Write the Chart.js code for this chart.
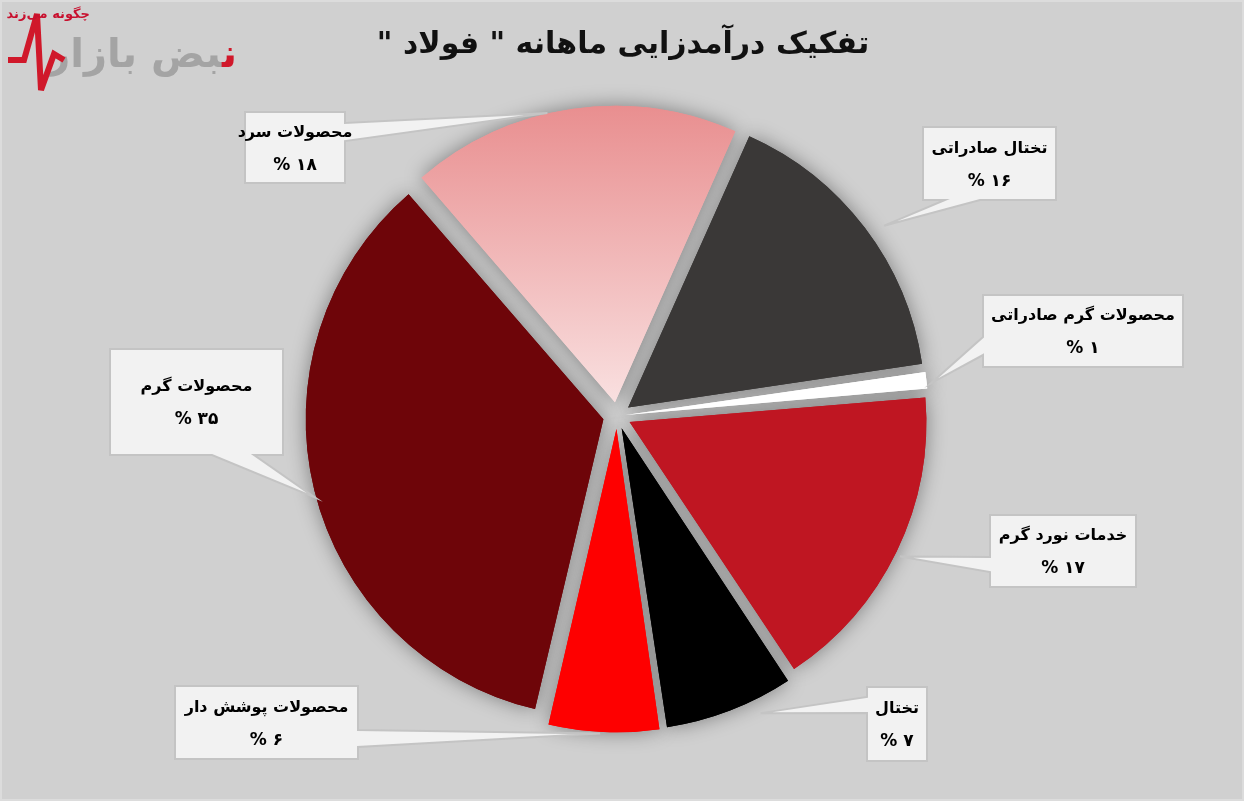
<!DOCTYPE html>
<html lang="fa">
<head>
<meta charset="UTF-8">
<title>تفکیک درآمدزایی ماهانه فولاد</title>
<script src="https://cdn.jsdelivr.net/npm/chart.js"></script>
<style>
  body{margin:0; background:#d0d0d0;}
  #wrap{position:relative; width:1244px; height:801px; overflow:hidden;}
  #logo{position:absolute; left:0; top:0; width:245px; height:95px;}
  #logoSub{position:absolute; left:28px; top:6px; width:62px; direction:rtl; text-align:center;
    font:bold 13px "DejaVu Sans"; color:#c8102e; white-space:nowrap;}
  #logoMain{position:absolute; right:8px; top:30px; direction:rtl;
    font:bold 40px "DejaVu Sans"; color:#a4a4a4; white-space:nowrap; letter-spacing:-1px;}
</style>
</head>
<body>
<div id="wrap">
  <canvas id="myChart" width="1244" height="801"></canvas>
  <div id="logo">
    <div id="logoMain"><span style="color:#d0182a">ن</span>بض بازار</div>
    <svg width="245" height="95" style="position:absolute;left:0;top:0">
      <polyline points="8,60 24,60 37,14 41,90 54,54 64,60" stroke="#d0182a" stroke-width="6" fill="none"/>
    </svg>
    <div id="logoSub">چگونه می‌زند</div>
  </div>
</div>
<script>
  // داده ها
  const labels = ['تختال صادراتی', 'محصولات گرم صادراتی', 'خدمات نورد گرم', 'تختال', 'محصولات پوشش دار', 'محصولات گرم', 'محصولات سرد'];
  const shares = [16, 1, 17, 7, 6, 35, 18];
  const colors = ['#3a3837', '#ffffff', '#bf1622', '#000000', '#fe0000', '#6e0509', 'pinkGradient'];
  const chartTitle = 'تفکیک درآمدزایی ماهانه " فولاد "';

  // جای جعبه های توضیح (فقط چیدمان)
  const callouts = [
    {box: [923, 127, 133, 73], side: 'bottom', a: 22, b: 57, f: 0.53, d: 328},
    {box: [983, 295, 200, 72], side: 'left', a: 42, b: 60, f: 0.67, d: 316},
    {box: [990, 515, 146, 72], side: 'left', a: 42, b: 57, f: 0.51, d: 316},
    {box: [867, 687, 60, 74], side: 'left', a: 10, b: 26, f: 0.31, d: 330},
    {box: [175, 686, 183, 73], side: 'right', a: 44, b: 61, f: 0.53, d: 318},
    {box: [110, 349, 173, 106], side: 'bottom', a: 102, b: 144, f: 0.49, d: 313},
    {box: [245, 112, 100, 71], side: 'right', a: 11, b: 29, f: 0.43, d: 311}
  ];

  const faDigits = '۰۱۲۳۴۵۶۷۸۹';
  function toFa(n){ return String(n).replace(/\d/g, d => faDigits[d]); }

  const R = 295;

  function sliceColor(c){
    const i = c.dataIndex;
    if(colors[i] !== 'pinkGradient') return colors[i];
    const area = c.chart.chartArea;
    if(!area) return '#ee9e9f';
    const cy = (area.top + area.bottom) / 2;
    const g = c.chart.ctx.createLinearGradient(0, cy - R - 14, 0, cy);
    g.addColorStop(0, '#e88b8c');
    g.addColorStop(1, '#f9e0e0');
    return g;
  }

  // پس زمینه، عنوان، سایه و جعبه ها
  const decor = {
    id: 'decor',
    beforeDraw(chart){
      const ctx = chart.ctx;
      ctx.save();
      ctx.fillStyle = '#d0d0d0';
      ctx.fillRect(0, 0, chart.width, chart.height);
      ctx.strokeStyle = '#dcdcdc';
      ctx.lineWidth = 4;
      ctx.strokeRect(0, 0, chart.width, chart.height);
      ctx.fillStyle = '#111';
      ctx.font = 'bold 30px "DejaVu Sans"';
      ctx.direction = 'rtl';
      ctx.textAlign = 'center';
      ctx.textBaseline = 'middle';
      ctx.fillText(chartTitle, 623, 45);
      ctx.restore();
    },
    beforeDatasetsDraw(chart){
      const ctx = chart.ctx;
      const meta = chart.getDatasetMeta(0);
      ctx.save();
      ctx.shadowColor = 'rgba(0,0,0,0.4)';
      ctx.shadowBlur = 20;
      meta.data.forEach(arc => arc.draw(ctx));
      ctx.restore();
    },
    afterDatasetsDraw(chart){
      const ctx = chart.ctx;
      const meta = chart.getDatasetMeta(0);
      callouts.forEach((co, i) => {
        const arc = meta.data[i];
        const ang = arc.startAngle + co.f * (arc.endAngle - arc.startAngle);
        const tx = arc.x + co.d * Math.cos(ang);
        const ty = arc.y + co.d * Math.sin(ang);
        const [x, y, w, h] = co.box;
        ctx.save();
        ctx.beginPath();
        ctx.moveTo(x, y);
        if(co.side === 'top'){ ctx.lineTo(x + co.a, y); ctx.lineTo(tx, ty); ctx.lineTo(x + co.b, y); }
        ctx.lineTo(x + w, y);
        if(co.side === 'right'){ ctx.lineTo(x + w, y + co.a); ctx.lineTo(tx, ty); ctx.lineTo(x + w, y + co.b); }
        ctx.lineTo(x + w, y + h);
        if(co.side === 'bottom'){ ctx.lineTo(x + co.b, y + h); ctx.lineTo(tx, ty); ctx.lineTo(x + co.a, y + h); }
        ctx.lineTo(x, y + h);
        if(co.side === 'left'){ ctx.lineTo(x, y + co.b); ctx.lineTo(tx, ty); ctx.lineTo(x, y + co.a); }
        ctx.closePath();
        ctx.fillStyle = '#f2f2f2';
        ctx.fill();
        ctx.strokeStyle = '#c4c4c4';
        ctx.lineWidth = 2;
        ctx.stroke();

        const cx = x + w / 2, cy = y + h / 2;
        ctx.fillStyle = '#000';
        ctx.direction = 'rtl';
        ctx.textAlign = 'center';
        ctx.textBaseline = 'middle';
        ctx.font = 'bold 16px "DejaVu Sans"';
        ctx.fillText(labels[i], cx, cy - 15);
        ctx.font = 'bold 17px "DejaVu Sans"';
        ctx.fillText(toFa(shares[i]) + ' %', cx, cy + 18);
        ctx.restore();
      });
    }
  };

  new Chart(document.getElementById('myChart'), {
    type: 'pie',
    data: {
      labels: labels,
      datasets: [{
        data: shares,
        backgroundColor: sliceColor,
        borderWidth: 0,
        offset: [56, 34, 56, 52, 52, 56, 56]
      }]
    },
    options: {
      responsive: false,
      animation: false,
      rotation: 24,
      radius: R,
      layout: {padding: {left: 0, right: 10, top: 31, bottom: 0}},
      plugins: {
        legend: {display: false},
        tooltip: {enabled: false}
      }
    },
    plugins: [decor]
  });
</script>
</body>
</html>
